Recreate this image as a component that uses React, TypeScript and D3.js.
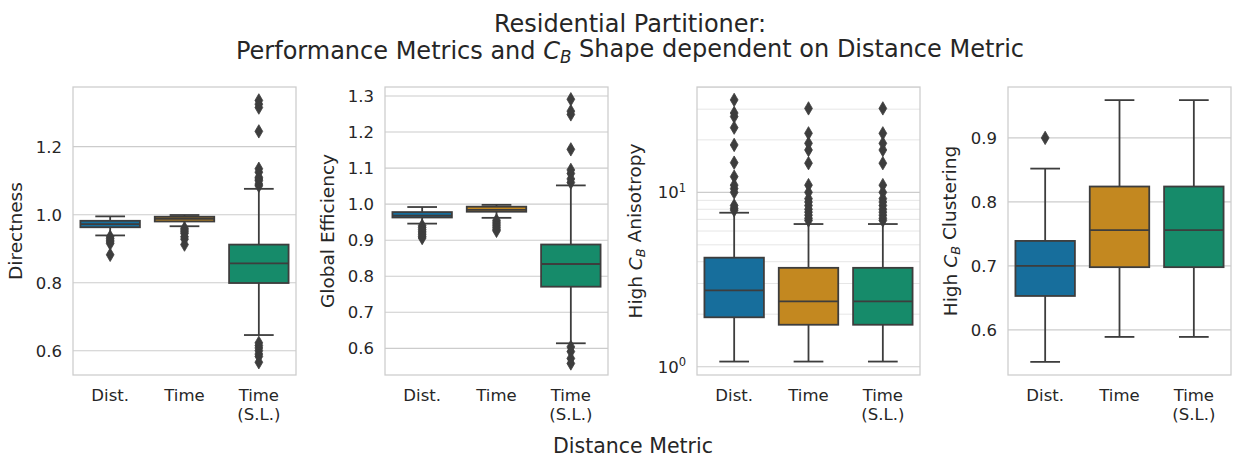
import React from "react";
import * as d3 from "d3";

// ---- data -------------------------------------------------------------
const categories = ["Dist.", "Time", "Time\n(S.L.)"];
const boxColors = ["#176E9C", "#C38820", "#168B6A"];

type BoxStat = { lo: number; q1: number; med: number; q3: number; hi: number };

const directnessStats: BoxStat[] = [
  { lo: 0.939, q1: 0.963, med: 0.972, q3: 0.982, hi: 0.995 },
  { lo: 0.966, q1: 0.98, med: 0.988, q3: 0.994, hi: 0.999 },
  { lo: 0.646, q1: 0.799, med: 0.857, q3: 0.912, hi: 1.076 },
];
const directnessOutliers: number[][] = [
  [0.935, 0.93, 0.925, 0.92, 0.915, 0.882],
  [0.96, 0.955, 0.95, 0.945, 0.935, 0.928, 0.912],
  [1.085, 1.09, 1.1, 1.105, 1.11, 1.125, 1.135, 1.245, 1.315, 1.325, 1.336, 0.623, 0.615, 0.608, 0.6, 0.59, 0.583, 0.566],
];

const efficiencyStats: BoxStat[] = [
  { lo: 0.946, q1: 0.963, med: 0.968, q3: 0.978, hi: 0.992 },
  { lo: 0.962, q1: 0.979, med: 0.984, q3: 0.993, hi: 0.998 },
  { lo: 0.614, q1: 0.771, med: 0.834, q3: 0.888, hi: 1.052 },
];
const efficiencyOutliers: number[][] = [
  [0.94, 0.935, 0.93, 0.925, 0.92, 0.915, 0.91, 0.906],
  [0.955, 0.95, 0.945, 0.94, 0.935, 0.93, 0.926],
  [1.06, 1.07, 1.085, 1.095, 1.152, 1.249, 1.258, 1.291, 0.604, 0.591, 0.572, 0.558],
];

const anisotropyStats: BoxStat[] = [
  { lo: 1.07, q1: 1.92, med: 2.74, q3: 4.22, hi: 7.64 },
  { lo: 1.07, q1: 1.74, med: 2.37, q3: 3.69, hi: 6.58 },
  { lo: 1.07, q1: 1.74, med: 2.37, q3: 3.69, hi: 6.58 },
];
const anisotropyOutliers: number[][] = [
  [7.9, 8.1, 8.4, 10.0, 10.5, 11.0, 12.3, 14.8, 18.7, 23.5, 27.2, 28.5, 33.9],
  [6.9, 7.1, 7.4, 7.7, 8.0, 8.4, 8.8, 9.2, 10.0, 11.0, 14.7, 17.5, 19.1, 21.8, 30.3],
  [6.9, 7.1, 7.4, 7.7, 8.0, 8.4, 8.8, 9.2, 10.0, 11.0, 14.7, 17.5, 19.1, 21.8, 30.3],
];

const clusteringStats: BoxStat[] = [
  { lo: 0.55, q1: 0.653, med: 0.7, q3: 0.739, hi: 0.852 },
  { lo: 0.589, q1: 0.698, med: 0.756, q3: 0.824, hi: 0.959 },
  { lo: 0.589, q1: 0.698, med: 0.756, q3: 0.824, hi: 0.959 },
];
const clusteringOutliers: number[][] = [[0.9], [], []];

const directnessTicks = [0.6, 0.8, 1.0, 1.2];
const efficiencyTicks = [0.6, 0.7, 0.8, 0.9, 1.0, 1.1, 1.2, 1.3];
const anisotropyTicks = [1, 10];
const anisotropyMinorTicks = [2, 3, 4, 5, 6, 7, 8, 9, 20, 30, 40];
const clusteringTicks = [0.6, 0.7, 0.8, 0.9];

// ---- styling ------------------------------------------------------------
const FONT = "DejaVu Sans, sans-serif";
const TEXT = "#262626";
const GRID = "#cccccc";
const MINOR_GRID = "#e6e6e6";
const LINE = "#3d3d3d";

const W = 1233;
const H = 457;
const TOP = 87;
const BOTTOM = 375;
const PANEL_W = 223;
const panelLefts = [73, 385, 697, 1008];

type PanelSpec = {
  label: React.ReactNode;
  stats: BoxStat[];
  outliers: number[][];
  domain: [number, number];
  log?: boolean;
  ticks: number[];
  minorTicks?: number[];
  fmt: (v: number) => React.ReactNode;
};

const CB = (
  <>
    <tspan fontStyle="italic">C</tspan>
    <tspan fontStyle="italic" fontSize="70%" dy="0.25em">B</tspan>
    <tspan dy="-0.25em"> </tspan>
  </>
);

const panels: PanelSpec[] = [
  {
    label: "Directness",
    stats: directnessStats,
    outliers: directnessOutliers,
    domain: [0.5285, 1.3755],
    ticks: directnessTicks,
    fmt: (v) => d3.format(".1f")(v),
  },
  {
    label: "Global Efficiency",
    stats: efficiencyStats,
    outliers: efficiencyOutliers,
    domain: [0.526, 1.325],
    ticks: efficiencyTicks,
    fmt: (v) => d3.format(".1f")(v),
  },
  {
    label: <>High {CB}Anisotropy</>,
    stats: anisotropyStats,
    outliers: anisotropyOutliers,
    domain: [0.896, 40.2],
    log: true,
    ticks: anisotropyTicks,
    minorTicks: anisotropyMinorTicks,
    fmt: (v) => (
      <>
        10
        <tspan fontSize="70%" dy="-0.55em">{Math.round(Math.log10(v))}</tspan>
      </>
    ),
  },
  {
    label: <>High {CB}Clustering</>,
    stats: clusteringStats,
    outliers: clusteringOutliers,
    domain: [0.5295, 0.9795],
    ticks: clusteringTicks,
    fmt: (v) => d3.format(".1f")(v),
  },
];

function Panel({ spec, left }: { spec: PanelSpec; left: number }) {
  const x = d3.scaleBand<string>().domain(categories).range([left, left + PANEL_W]).padding(0);
  const y = (spec.log ? d3.scaleLog() : d3.scaleLinear()).domain(spec.domain).range([BOTTOM, TOP]);
  const boxW = x.bandwidth() * 0.8;
  const capW = boxW * 0.5;
  const diamond = (cx: number, cy: number) =>
    `M${cx},${cy - 6.7}L${cx + 3.9},${cy}L${cx},${cy + 6.7}L${cx - 3.9},${cy}Z`;

  return (
    <g>
      {/* grid */}
      {(spec.minorTicks || []).map((t) => (
        <line key={"m" + t} x1={left} x2={left + PANEL_W} y1={y(t)} y2={y(t)} stroke={MINOR_GRID} strokeWidth={1} />
      ))}
      {spec.ticks.map((t) => (
        <line key={"g" + t} x1={left} x2={left + PANEL_W} y1={y(t)} y2={y(t)} stroke={GRID} strokeWidth={1.1} />
      ))}
      {/* y tick labels */}
      {spec.ticks.map((t) => (
        <text key={"t" + t} x={left - 11} y={y(t)} dy="0.36em" textAnchor="end" fontSize={16.5} fill={TEXT}>
          {spec.fmt(t)}
        </text>
      ))}
      {/* y label */}
      <text
        transform={`translate(${left - (spec.log ? 55 : 51)},${(TOP + BOTTOM) / 2}) rotate(-90)`}
        textAnchor="middle"
        fontSize={18.5}
        fill={TEXT}
      >
        {spec.label}
      </text>
      {/* x tick labels */}
      {categories.map((c) => {
        const cx = x(c)! + x.bandwidth() / 2;
        return (
          <text key={"x" + c} x={cx} y={401} textAnchor="middle" fontSize={16.5} fill={TEXT}>
            {c.split("\n").map((line, i) => (
              <tspan key={i} x={cx} dy={i === 0 ? 0 : 19}>
                {line}
              </tspan>
            ))}
          </text>
        );
      })}
      {/* boxes */}
      {spec.stats.map((s, i) => {
        const cx = x(categories[i])! + x.bandwidth() / 2;
        return (
          <g key={"b" + i}>
            <line x1={cx} x2={cx} y1={y(s.q3)} y2={y(s.hi)} stroke={LINE} strokeWidth={1.8} />
            <line x1={cx} x2={cx} y1={y(s.q1)} y2={y(s.lo)} stroke={LINE} strokeWidth={1.8} />
            <line x1={cx - capW / 2} x2={cx + capW / 2} y1={y(s.hi)} y2={y(s.hi)} stroke={LINE} strokeWidth={1.8} />
            <line x1={cx - capW / 2} x2={cx + capW / 2} y1={y(s.lo)} y2={y(s.lo)} stroke={LINE} strokeWidth={1.8} />
            <rect
              x={cx - boxW / 2}
              y={y(s.q3)}
              width={boxW}
              height={y(s.q1) - y(s.q3)}
              fill={boxColors[i]}
              stroke={LINE}
              strokeWidth={1.8}
            />
            <line x1={cx - boxW / 2} x2={cx + boxW / 2} y1={y(s.med)} y2={y(s.med)} stroke={LINE} strokeWidth={1.8} />
            {spec.outliers[i].map((o, j) => (
              <path key={j} d={diamond(cx, y(o))} fill={LINE} stroke={LINE} strokeWidth={0.8} />
            ))}
          </g>
        );
      })}
      {/* frame */}
      <rect x={left} y={TOP} width={PANEL_W} height={BOTTOM - TOP} fill="none" stroke={GRID} strokeWidth={1.25} />
    </g>
  );
}

export default function App() {
  return (
    <>
      <style>{`body{margin:0}`}</style>
      <svg width={W} height={H} style={{ display: "block", background: "#fff" }} fontFamily={FONT}>
        <text x={630} y={32} textAnchor="middle" fontSize={24} fill={TEXT}>
          Residential Partitioner:
        </text>
        <text x={630} y={59} textAnchor="middle" fontSize={24} fill={TEXT}>
          Performance Metrics and {CB}Shape dependent on Distance Metric
        </text>
        {panels.map((p, i) => (
          <Panel key={i} spec={p} left={panelLefts[i]} />
        ))}
        <text x={633} y={453} textAnchor="middle" fontSize={20.5} fill={TEXT}>
          Distance Metric
        </text>
      </svg>
    </>
  );
}
